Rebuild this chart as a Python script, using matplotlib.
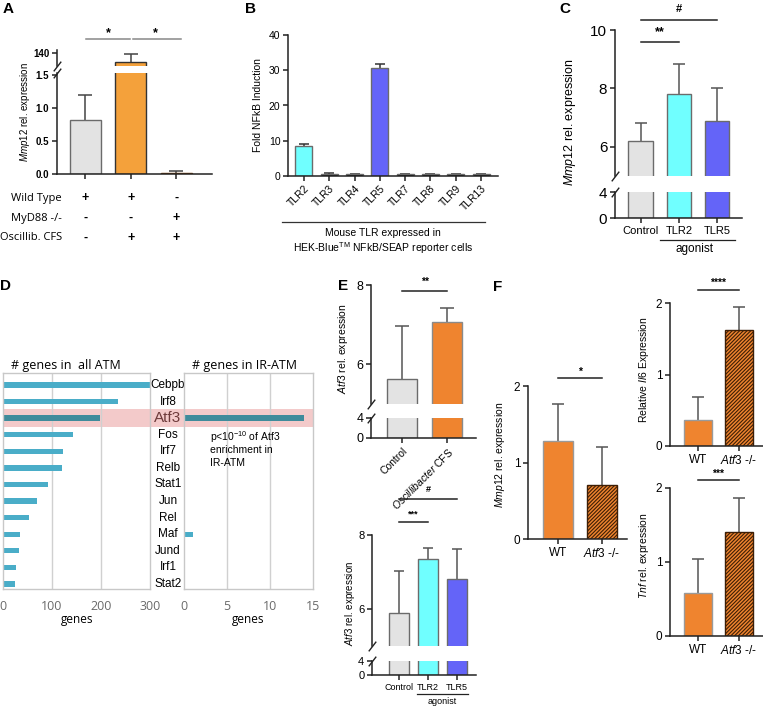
import matplotlib
matplotlib.use('Agg')
import matplotlib.pyplot as plt
import matplotlib.transforms as mtransforms
from matplotlib.patches import Rectangle
from matplotlib.lines import Line2D
import numpy as np

plt.rcParams['font.family'] = ['Liberation Sans', 'DejaVu Sans']
plt.rcParams['mathtext.fontset'] = 'custom'
plt.rcParams['mathtext.it'] = 'Liberation Sans:italic'
plt.rcParams['mathtext.rm'] = 'Liberation Sans'
plt.rcParams['hatch.linewidth'] = 0.8

# ---- data ----
a_vals = [0.82, 126, 0.02]
a_err = [0.38, 12.7, 0.02]
a_rows = ['Wild Type', 'MyD88 -/-', 'Oscillib. CFS']
a_signs = [['+', '+', '-'], ['-', '-', '+'], ['-', '+', '+']]

b_labels = ['TLR2', 'TLR3', 'TLR4', 'TLR5', 'TLR7', 'TLR8', 'TLR9', 'TLR13']
b_vals = [8.6, 0.7, 0.6, 30.6, 0.5, 0.5, 0.6, 0.6]
b_err = [0.4, 0.1, 0.1, 1.3, 0.1, 0.1, 0.1, 0.1]

c_labels = ['Control', 'TLR2', 'TLR5']
c_vals = [6.2, 7.8, 6.9]
c_err = [0.6, 1.05, 1.1]

d_genes = ['Cebpb', 'Irf8', 'Atf3', 'Fos', 'Irf7', 'Relb', 'Stat1', 'Jun',
           'Rel', 'Maf', 'Jund', 'Irf1', 'Stat2']
d_all = [300, 235, 198, 143, 122, 121, 91, 70, 53, 35, 32, 26, 24]
d_ir = [0, 0, 14, 0, 0, 0, 0, 0, 0, 1, 0, 0, 0]

e1_labels = ['Control', r'$\it{Oscillibacter}$ CFS']
e1_vals = [5.63, 7.06]
e1_err = [1.33, 0.36]

e2_labels = ['Control', 'TLR2', 'TLR5']
e2_vals = [5.88, 7.36, 6.81]
e2_err = [1.15, 0.29, 0.81]

f_labels = ['WT', r'$\it{Atf3}$ -/-']
f_mmp12 = [1.28, 0.71]
f_mmp12_err = [0.49, 0.49]
f_il6 = [0.36, 1.62]
f_il6_err = [0.32, 0.32]
f_tnf = [0.58, 1.41]
f_tnf_err = [0.46, 0.45]

GRAY = '#E3E3E3'
CYAN = '#70FFFF'
BLUE = '#6464F8'
ORANGE_A = '#F4A13B'
ORANGE = '#EF842F'
EDGE = '#6B6B6B'

W, H = 763, 712
fig = plt.figure(figsize=(W / 100, H / 100), dpi=100)


def axpx(l, t, r, b):
    return fig.add_axes([l / W, 1 - b / H, (r - l) / W, (b - t) / H])


def ftext(x, y, s, **kw):
    fig.text(x / W, 1 - y / H, s, **kw)


def fline(x0, x1, y, **kw):
    fig.add_artist(Line2D([x0 / W, x1 / W], [1 - y / H] * 2,
                          transform=fig.transFigure, **kw))


def style(ax, fs=8):
    for s in ['top', 'right']:
        ax.spines[s].set_visible(False)
    for s in ['left', 'bottom']:
        ax.spines[s].set_linewidth(1.1)
        ax.spines[s].set_color('#222222')
    ax.tick_params(length=3.5, width=1.1, labelsize=fs, pad=2, color='#222222')


def errbars(ax, vals, err, color='#555555', cap=8, only=None):
    # upper-only error bars, GraphPad style
    for i, (v, e) in enumerate(zip(vals, err)):
        if only is not None and i not in only:
            continue
        ax.plot([i, i], [v, v + e], color=color, lw=1.1, zorder=1,
                solid_capstyle='butt')
        ax.plot([i], [v + e], marker='_', markersize=cap, mew=1.1,
                color=color, zorder=1)


def draw_bars(ax, vals, colors, width, hatches=None, edges=None, err=None,
              ecolor='#555555', cap=8, only=None):
    x = np.arange(len(vals))
    for i, v in enumerate(vals):
        ax.bar(x[i], v, width, color=colors[i],
               edgecolor=(edges[i] if edges else EDGE), linewidth=1,
               hatch=(hatches[i] if hatches else None), zorder=2)
    if err is not None:
        errbars(ax, vals, err, ecolor, cap, only)


def slash(ax, y):
    ax.plot([0], [y], transform=ax.transAxes, marker=[(-1, -1.3), (1, 1.3)],
            markersize=7, color='#222222', mew=1, clip_on=False, ls='none')


def sig(ax, x0, x1, y, ty, s, color='#222222', fs=8):
    ax.plot([x0, x1], [y, y], color=color, lw=1.1, clip_on=False)
    ax.text((x0 + x1) / 2, ty, s, ha='center', va='center', fontsize=fs,
            fontweight='bold', clip_on=False)


def break_pair(top, brk_top, brk_bot, bottom, l, r, vals, err, colors, xlim,
               width, ylim_up, yt_up, fs_y, edges=None, cap=8):
    up = axpx(l, top, r, brk_top)
    lo = axpx(l, brk_bot, r, bottom)
    for ax in (up, lo):
        draw_bars(ax, vals, colors, width, edges=edges,
                  err=err if ax is up else None, cap=cap)
        ax.set_xlim(*xlim)
        style(ax, fs_y)
    up.set_ylim(*ylim_up)
    up.set_yticks(yt_up)
    up.spines['bottom'].set_visible(False)
    up.tick_params(axis='x', length=0, labelbottom=False)
    lo.set_ylim(0, 4)
    lo.set_yticks([0, 4])
    lo.set_xticks(np.arange(len(vals)))
    slash(up, 0)
    slash(lo, 1)
    return up, lo


# ---------------- Panel A ----------------
a_lo = axpx(57, 73, 212, 174)
a_up = axpx(57, 50, 212, 66)
a_colors = [GRAY, ORANGE_A, ORANGE_A]
a_edges = [EDGE, '#333333', '#7a3b00']
draw_bars(a_lo, a_vals, a_colors, 0.68, edges=a_edges, err=a_err,
          ecolor='#444444', cap=10, only=[0, 2])
draw_bars(a_up, a_vals, a_colors, 0.68, edges=a_edges, err=a_err,
          ecolor='#444444', cap=10, only=[1])
for ax in (a_lo, a_up):
    ax.set_xlim(-0.62, 2.79)
    style(ax, 7)
a_lo.set_ylim(0, 1.53)
a_lo.set_yticks([0, 0.5, 1.0, 1.5])
a_lo.set_yticklabels(['0.0', '0.5', '1.0', '1.5'], fontweight='bold')
a_lo.set_xticks([0, 1, 2])
a_lo.set_xticklabels([])
a_up.set_ylim(120, 145)
a_up.set_yticks([140])
a_up.set_yticklabels(['140'], fontweight='bold')
a_up.spines['bottom'].set_visible(False)
a_up.tick_params(axis='x', length=0, labelbottom=False)
slash(a_up, 0)
slash(a_lo, 1)
a_up.plot([0.02, 0.98], [162, 162], color='#888888', lw=1.1, clip_on=False)
a_up.plot([1.05, 2.1], [162, 162], color='#888888', lw=1.1, clip_on=False)
a_up.text(0.5, 172, '*', ha='center', va='center', fontsize=9, fontweight='bold')
a_up.text(1.55, 172, '*', ha='center', va='center', fontsize=9, fontweight='bold')
ftext(25, 112, r'$\it{Mmp12}$ rel. expression', rotation=90, ha='center',
      va='center', fontsize=7)
blend = mtransforms.blended_transform_factory(a_lo.transData, fig.transFigure)
for r, (name, signs) in enumerate(zip(a_rows, a_signs)):
    y = 198 + r * 20
    ftext(62, y, name, ha='right', va='center', fontsize=8,
          family=['Open Sans', 'DejaVu Sans'])
    for i, s in enumerate(signs):
        a_lo.text(i, 1 - y / H, s, transform=blend, ha='center', va='center',
                  fontsize=9, fontweight='bold')
ftext(8, 9, 'A', fontsize=11, fontweight='bold', ha='center', va='center')

# ---------------- Panel B ----------------
b_ax = axpx(288, 35, 498, 176)
b_colors = [CYAN, 'k', 'k', BLUE, 'k', 'k', 'k', 'k']
draw_bars(b_ax, b_vals, b_colors, 0.67, err=b_err, ecolor='#333333', cap=7)
b_ax.set_xlim(-0.63, 7.67)
b_ax.set_ylim(0, 40)
b_ax.set_yticks([0, 10, 20, 30, 40])
b_ax.set_xticks(np.arange(len(b_labels)))
b_ax.set_xticklabels(b_labels, rotation=45, ha='right', rotation_mode='anchor')
style(b_ax, 7.5)
b_ax.set_ylabel('Fold NFkB Induction', fontsize=7.5, labelpad=4)
fline(282, 485, 222, color='#333333', lw=0.9)
ftext(383, 233, 'Mouse TLR expressed in', ha='center', va='center', fontsize=7.5)
ftext(383, 248, r'HEK-Blue$^{\mathrm{TM}}$ NFkB/SEAP reporter cells',
      ha='center', va='center', fontsize=7.5)
ftext(250, 9, 'B', fontsize=11, fontweight='bold', ha='center', va='center')

# ---------------- Panel C ----------------
c_up, c_lo = break_pair(30, 176, 192, 218, 615, 742, c_vals, c_err,
                        [GRAY, CYAN, BLUE], (-0.68, 2.66), 0.65, (5, 10),
                        [6, 8, 10], 11, cap=9)
c_lo.set_xticklabels(c_labels, fontsize=8)
sig(c_up, 0, 1, 9.59, 9.92, '**', fs=9)
sig(c_up, 0, 2, 10.34, 10.72, '#', fs=8)
ftext(570, 122, r'$\it{Mmp12}$ rel. expression', rotation=90, ha='center',
      va='center', fontsize=9)
fline(660, 735, 240, color='#222222', lw=0.9)
ftext(695, 249, 'agonist', ha='center', va='center', fontsize=8.5)
ftext(565, 9, 'C', fontsize=11, fontweight='bold', ha='center', va='center')

# ---------------- Panel D ----------------
rows = np.arange(len(d_genes))
d_l = axpx(3, 373, 150, 589)
d_r = axpx(184, 373, 313, 589)
d_cols = ['#4AADC8' if g != 'Atf3' else '#3F8B9B' for g in d_genes]
for ax, vals, xmax, grid in ((d_l, d_all, 300, [100, 200]),
                             (d_r, d_ir, 15, [5, 10])):
    ax.set_facecolor('none')
    ax.barh(rows, vals, 0.32, color=d_cols, zorder=2)
    ax.set_xlim(0, xmax)
    ax.set_ylim(12.3, -0.72)
    for g in grid:
        ax.axvline(g, color='#D0D0D0', lw=1, zorder=1)
    for s in ax.spines.values():
        s.set_color('#C8C8C8')
        s.set_linewidth(1)
    ax.set_yticks([])
    ax.set_xticks([0] + grid + [xmax])
    ax.tick_params(axis='x', length=0, pad=8, labelsize=9, labelcolor='#6A6A6A')
    for t in ax.get_xticklabels():
        t.set_family(['Open Sans', 'DejaVu Sans'])
band_tr = mtransforms.blended_transform_factory(fig.transFigure, d_l.transData)
i_atf3 = d_genes.index('Atf3')
fig.add_artist(Rectangle((3 / W, i_atf3 - 0.52), 310 / W, 1.04,
                         transform=band_tr, facecolor='#F3CACA',
                         edgecolor='none', zorder=-1))
for i, g in enumerate(d_genes):
    if g == 'Atf3':
        d_l.text(168 / W, i, g, transform=band_tr, ha='center', va='center',
                 fontsize=11, color='#6E3B3B', clip_on=False)
    else:
        d_l.text(168 / W, i, g, transform=band_tr, ha='center', va='center',
                 fontsize=8.5, clip_on=False)
ftext(66, 366, '# genes in  all ATM', ha='center', va='center', fontsize=9,
      family=['Open Sans', 'DejaVu Sans'])
ftext(244, 366, '# genes in IR-ATM', ha='center', va='center', fontsize=9,
      family=['Open Sans', 'DejaVu Sans'])
ftext(77, 620, 'genes', ha='center', va='center', fontsize=8.5,
      family=['Open Sans', 'DejaVu Sans'])
ftext(248, 620, 'genes', ha='center', va='center', fontsize=8.5,
      family=['Open Sans', 'DejaVu Sans'])
ftext(210, 437, r'p<10$^{\mathrm{-10}}$ of Atf3', ha='left', va='center', fontsize=7.5)
ftext(210, 450, 'enrichment in', ha='left', va='center', fontsize=7.5)
ftext(210, 463, 'IR-ATM', ha='left', va='center', fontsize=7.5)
ftext(6, 286, 'D', fontsize=11, fontweight='bold', ha='center', va='center')

# ---------------- Panel E (top) ----------------
e1_up, e1_lo = break_pair(285, 404, 418, 438, 371, 476, e1_vals, e1_err,
                          [GRAY, ORANGE], (-0.69, 1.64), 0.67, (5, 8),
                          [6, 8], 9, edges=[EDGE, '#8a8a8a'], cap=10)
e1_lo.set_xticklabels(e1_labels, rotation=45, ha='right',
                      rotation_mode='anchor', fontsize=7.5)
sig(e1_up, 0, 1, 7.85, 8.08, '**', fs=7.5)
ftext(343, 349, r'$\it{Atf3}$ rel. expression', rotation=90, ha='center',
      va='center', fontsize=7.5)
ftext(343, 286, 'E', fontsize=11, fontweight='bold', ha='center', va='center')

# ---------------- Panel E (bottom) ----------------
e2_up, e2_lo = break_pair(535, 646, 661, 675, 372, 476, e2_vals, e2_err,
                          [GRAY, CYAN, BLUE], (-0.93, 2.66), 0.69, (5, 8),
                          [6, 8], 8, cap=7)
e2_lo.set_xticklabels(e2_labels, fontsize=6.5)
sig(e2_up, 0, 1, 8.35, 8.56, '***', fs=6.5)
sig(e2_up, 0, 2, 8.97, 9.22, '#', fs=6.5)
ftext(350, 603, r'$\it{Atf3}$ rel. expression', rotation=90, ha='center',
      va='center', fontsize=7)
fline(417, 468, 694, color='#222222', lw=0.9)
ftext(442, 701, 'agonist', ha='center', va='center', fontsize=6.5)

# ---------------- Panel F ----------------
f_specs = [
    ((528, 386, 627, 539), f_mmp12, f_mmp12_err, (-0.68, 1.57), 2.10, 2.19, '*',
     (500, 455), r'$\it{Mmp12}$ rel. expression'),
    ((670, 303, 763, 446), f_il6, f_il6_err, (-0.68, 1.59), 2.18, 2.28, '****',
     (644, 370), r'Relative $\it{Il6}$ Expression'),
    ((670, 488, 763, 636), f_tnf, f_tnf_err, (-0.68, 1.59), 2.11, 2.19, '***',
     (644, 556), r'$\it{Tnf}$ rel. expression'),
]
for box, vals, err, xlim, ly, ty, star, lpos, ylab in f_specs:
    ax = axpx(*box)
    draw_bars(ax, vals, [ORANGE, ORANGE], 0.68, hatches=[None, '/////////'],
              edges=['#9a9a9a', '#3d1e05'], err=err, cap=9)
    ax.set_xlim(*xlim)
    ax.set_ylim(0, 2)
    ax.set_yticks([0, 1, 2])
    ax.set_xticks([0, 1])
    ax.set_xticklabels(f_labels)
    style(ax, 8.5)
    sig(ax, 0, 1, ly, ty, star, fs=7.5)
    ftext(lpos[0], lpos[1], ylab, rotation=90, ha='center', va='center',
          fontsize=7.5)
ftext(498, 287, 'F', fontsize=11, fontweight='bold', ha='center', va='center')

fig.savefig('out.png', dpi=100)
